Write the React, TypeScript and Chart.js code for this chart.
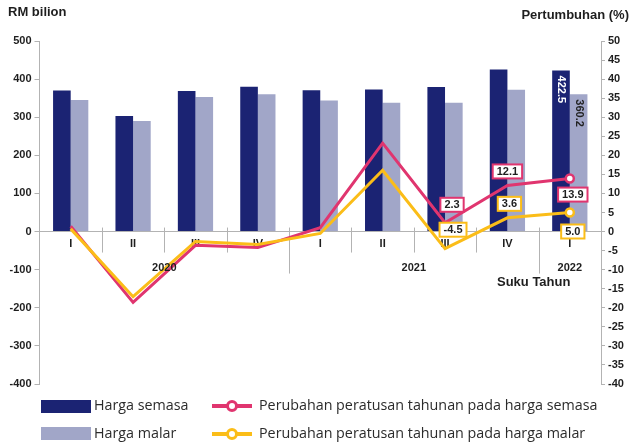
import React, { useEffect, useRef } from 'react';
import { Chart, registerables } from 'chart.js';

Chart.register(...registerables);

// ---- data ----
const quarters = ['I', 'II', 'III', 'IV', 'I', 'II', 'III', 'IV', 'I'];
const years = ['2020', '2021', '2022'];
const yearSpans = [4, 4, 1];
const hargaSemasa = [370, 303, 369, 380, 371, 373, 379, 425, 422.5];
const hargaMalar = [345, 290, 353, 360, 344, 338, 338, 372, 360.2];
const growthSemasa = [1.4, -18.6, -3.6, -4.2, 1.0, 23.2, 2.3, 12.1, 13.9];
const growthMalar = [0.7, -17.1, -2.6, -3.4, -0.5, 16.1, -4.5, 3.6, 5.0];
const leftTickRange = [-400, 500];
const rightTickRange = [-40, 50];
const labelledPoints = [6, 7, 8];

const seriesNames = [
  'Harga semasa',
  'Harga malar',
  'Perubahan peratusan tahunan pada harga semasa',
  'Perubahan peratusan tahunan pada harga malar',
];

// ---- styles ----
const DARK = '#1b2373';
const LIGHT = '#a1a6c8';
const PINK = '#e0356f';
const YELLOW = '#fbbd18';
const AXIS = '#b3b3b3';
const TEXT = '#1e1e1e';
const BOLD = 'bold 11px "Liberation Sans", Arial, sans-serif';

const pinkOffsets: Record<number, [number, number]> = { 6: [7, -18], 7: [0, -14], 8: [3, 16] };
const yellowOffsets: Record<number, [number, number]> = { 6: [8, -19], 7: [2, -14], 8: [3, 19] };

const decorPlugin = {
  id: 'decor',
  beforeDatasetsDraw(chart: any) {
    const ctx = chart.ctx;
    const xs = chart.scales.x;
    const y0 = chart.scales.y.getPixelForValue(0);
    ctx.save();
    ctx.strokeStyle = AXIS;
    ctx.lineWidth = 1;
    let acc = 0;
    const yearEnds = yearSpans.map((s) => (acc += s));
    for (let i = 0; i < quarters.length - 1; i++) {
      const bx = Math.round((xs.getPixelForTick(i) + xs.getPixelForTick(i + 1)) / 2) + 0.5;
      const long = yearEnds.includes(i + 1);
      ctx.beginPath();
      ctx.moveTo(bx, y0 - 4);
      ctx.lineTo(bx, y0 + (long ? 42 : 21));
      ctx.stroke();
    }
    ctx.restore();
  },
  afterDatasetsDraw(chart: any) {
    const ctx = chart.ctx;
    const xs = chart.scales.x;
    const y0 = chart.scales.y.getPixelForValue(0);
    ctx.save();
    // year labels
    ctx.font = BOLD;
    ctx.fillStyle = TEXT;
    ctx.textAlign = 'center';
    ctx.textBaseline = 'middle';
    let start = 0;
    years.forEach((yr, k) => {
      const end = start + yearSpans[k] - 1;
      const cx = (xs.getPixelForTick(start) + xs.getPixelForTick(end)) / 2;
      ctx.fillText(yr, cx, y0 + 36);
      start = end + 1;
    });
    // axis caption
    ctx.font = 'bold 13px "Liberation Sans", Arial, sans-serif';
    ctx.textAlign = 'left';
    ctx.fillText('Suku Tahun', 497, y0 + 51);

    // bar value labels (last quarter)
    const last = quarters.length - 1;
    const b0 = chart.getDatasetMeta(0).data[last];
    const b1 = chart.getDatasetMeta(1).data[last];
    ctx.font = BOLD;
    ctx.textBaseline = 'middle';
    ctx.textAlign = 'left';
    [
      [b0, hargaSemasa[last], '#ffffff'],
      [b1, hargaMalar[last], '#222222'],
    ].forEach(([b, v, c]: any) => {
      ctx.save();
      ctx.translate(b.x, b.y + 5);
      ctx.rotate(Math.PI / 2);
      ctx.fillStyle = c;
      ctx.fillText(Number(v).toFixed(1), 0, 0);
      ctx.restore();
    });

    // point value boxes
    const drawBox = (x: number, y: number, txt: string, color: string) => {
      ctx.font = BOLD;
      const w = ctx.measureText(txt).width + 8;
      const h = 14;
      ctx.fillStyle = '#ffffff';
      ctx.fillRect(x - w / 2, y - h / 2, w, h);
      ctx.strokeStyle = color;
      ctx.lineWidth = 2;
      ctx.strokeRect(x - w / 2, y - h / 2, w, h);
      ctx.fillStyle = TEXT;
      ctx.textAlign = 'center';
      ctx.textBaseline = 'middle';
      ctx.fillText(txt, x, y + 0.5);
    };
    const mp = chart.getDatasetMeta(2).data;
    const my = chart.getDatasetMeta(3).data;
    labelledPoints.forEach((i) => {
      const [dx1, dy1] = pinkOffsets[i];
      drawBox(mp[i].x + dx1, mp[i].y + dy1, growthSemasa[i].toFixed(1), PINK);
      const [dx2, dy2] = yellowOffsets[i];
      drawBox(my[i].x + dx2, my[i].y + dy2, growthMalar[i].toFixed(1), YELLOW);
    });
    ctx.restore();
  },
  afterDraw(chart: any) {
    const ctx = chart.ctx;
    ctx.save();
    // titles
    ctx.fillStyle = TEXT;
    ctx.font = 'bold 13px "Liberation Sans", Arial, sans-serif';
    ctx.textBaseline = 'middle';
    ctx.textAlign = 'left';
    ctx.fillText('RM bilion', 8, 12);
    ctx.textAlign = 'right';
    ctx.fillText('Pertumbuhan (%)', 629, 15);

    // legend
    const legendFont = '14.3px "Open Sans", sans-serif';
    ctx.font = legendFont;
    ctx.textAlign = 'left';
    ctx.fillStyle = DARK;
    ctx.fillRect(41, 400, 50, 13);
    ctx.fillStyle = LIGHT;
    ctx.fillRect(41, 427, 50, 13);
    ctx.fillStyle = '#2b2b2b';
    ctx.fillText(seriesNames[0], 94, 406);
    ctx.fillText(seriesNames[1], 94, 434);
    const lineItem = (y: number, color: string, txt: string) => {
      ctx.strokeStyle = color;
      ctx.lineWidth = 4;
      ctx.beginPath();
      ctx.moveTo(212, y);
      ctx.lineTo(252, y);
      ctx.stroke();
      ctx.beginPath();
      ctx.arc(232, y, 4.5, 0, Math.PI * 2);
      ctx.fillStyle = '#ffffff';
      ctx.fill();
      ctx.lineWidth = 3;
      ctx.stroke();
      ctx.fillStyle = '#2b2b2b';
      ctx.fillText(txt, 259, y);
    };
    lineItem(406, PINK, seriesNames[2]);
    lineItem(434, YELLOW, seriesNames[3]);
    ctx.restore();
  },
};

export default function App() {
  const ref = useRef<HTMLCanvasElement | null>(null);
  useEffect(() => {
    if (!ref.current) return;
    const lastIdx = quarters.length - 1;
    const pointR = (c: any) => (c.dataIndex === lastIdx ? 4 : 0);
    const chart = new Chart(ref.current, {
      type: 'bar',
      data: {
        labels: quarters,
        datasets: [
          {
            type: 'bar',
            label: seriesNames[0],
            data: hargaSemasa,
            backgroundColor: DARK,
            yAxisID: 'y',
            order: 3,
            categoryPercentage: 0.565,
            barPercentage: 1,
          },
          {
            type: 'bar',
            label: seriesNames[1],
            data: hargaMalar,
            backgroundColor: LIGHT,
            yAxisID: 'y',
            order: 3,
            categoryPercentage: 0.565,
            barPercentage: 1,
          },
          {
            type: 'line',
            label: seriesNames[2],
            data: growthSemasa,
            borderColor: PINK,
            borderWidth: 3,
            tension: 0,
            yAxisID: 'y1',
            order: 1,
            pointRadius: pointR,
            pointBackgroundColor: '#ffffff',
            pointBorderColor: PINK,
            pointBorderWidth: 2.5,
          },
          {
            type: 'line',
            label: seriesNames[3],
            data: growthMalar,
            borderColor: YELLOW,
            borderWidth: 3,
            tension: 0,
            yAxisID: 'y1',
            order: 0,
            pointRadius: pointR,
            pointBackgroundColor: '#ffffff',
            pointBorderColor: YELLOW,
            pointBorderWidth: 2.5,
          },
        ] as any,
      },
      options: {
        animation: false,
        responsive: false,
        devicePixelRatio: 1,
        layout: { padding: { top: 41, bottom: 64, left: 0, right: 0 } },
        plugins: { legend: { display: false }, tooltip: { enabled: false } },
        scales: {
          x: {
            position: { y: 0 } as any,
            offset: true,
            grid: { display: false, drawTicks: false },
            border: { display: true, color: AXIS, width: 1 },
            ticks: { font: { family: '"Liberation Sans", Arial, sans-serif', size: 11, weight: 'bold' }, color: TEXT, padding: 6, maxRotation: 0 },
          },
          y: {
            position: 'left',
            min: leftTickRange[0],
            max: leftTickRange[1],
            afterFit: (s: any) => { s.width = 39.5; },
            grid: { drawOnChartArea: false, drawTicks: true, tickLength: 5, tickColor: AXIS },
            border: { display: true, color: AXIS, width: 1 },
            ticks: { stepSize: 100, font: { family: '"Liberation Sans", Arial, sans-serif', size: 11, weight: 'bold' }, color: TEXT, padding: 3 },
          },
          y1: {
            position: 'right',
            min: rightTickRange[0],
            max: rightTickRange[1],
            afterFit: (s: any) => { s.width = 29; },
            grid: { drawOnChartArea: false, drawTicks: true, tickLength: 4, tickColor: AXIS },
            border: { display: true, color: AXIS, width: 1 },
            ticks: { stepSize: 5, font: { family: '"Liberation Sans", Arial, sans-serif', size: 11, weight: 'bold' }, color: TEXT, padding: 3 },
          },
        },
      } as any,
      plugins: [decorPlugin],
    });
    return () => chart.destroy();
  }, []);
  return (
    <div style={{ position: 'fixed', left: 0, top: 0, width: 630, height: 448, background: '#ffffff' }}>
      <canvas ref={ref} width={630} height={448} style={{ display: 'block', width: 630, height: 448 }} />
    </div>
  );
}
